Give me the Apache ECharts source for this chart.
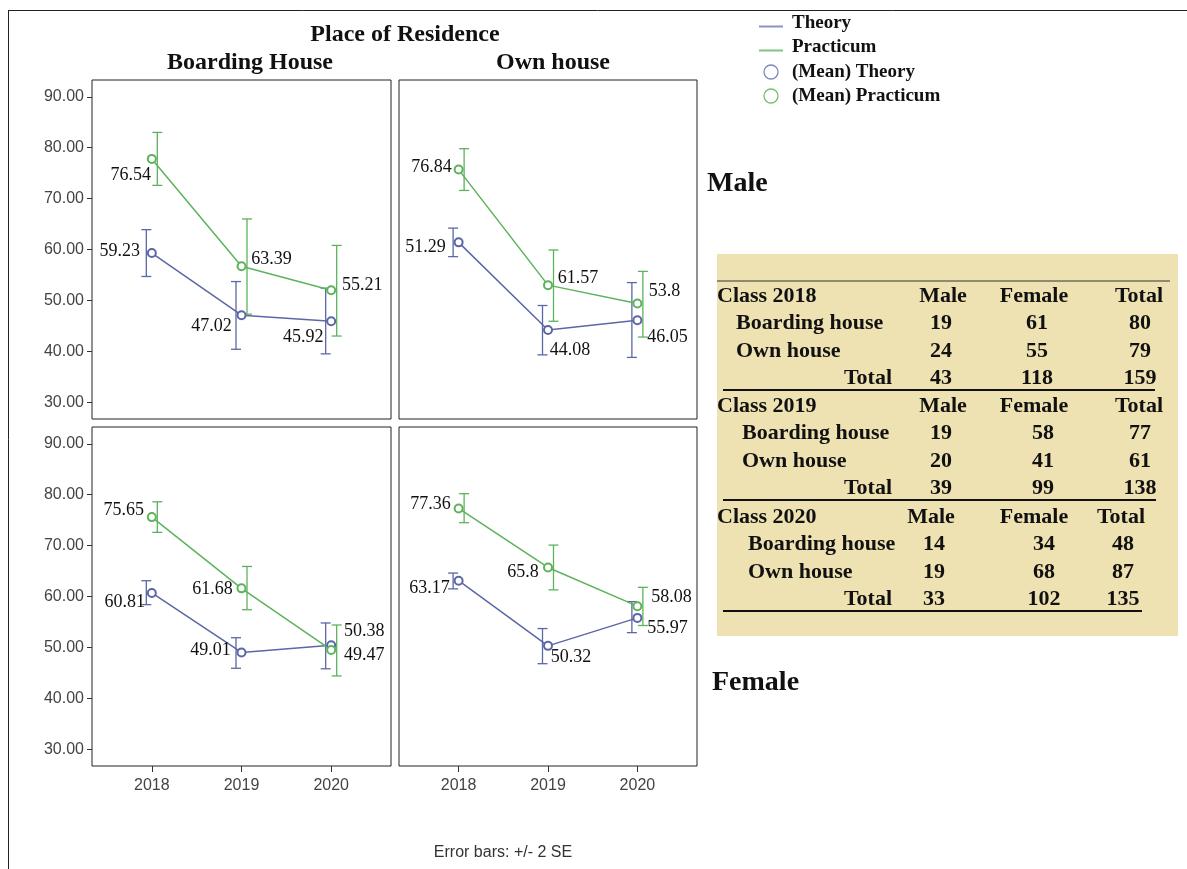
<!DOCTYPE html>
<html>
<head>
<meta charset="utf-8">
<script src="https://cdn.jsdelivr.net/npm/echarts@6.0.0/dist/echarts.min.js"></script>
<style>
  html, body { margin: 0; padding: 0; background: #fff; }
  #chart { width: 1187px; height: 869px; }
</style>
</head>
<body>
<div id="chart"></div>
<script>
// years on the x axis, ticks on the y axis
const years = [2018, 2019, 2020];
const yTicks = [30, 40, 50, 60, 70, 80, 90];

// Male - boarding house
const mbTheory = [59.3, 47.1, 45.9];
const mbTheoryLo = [54.7, 40.4, 39.5];
const mbTheoryHi = [63.9, 53.7, 52.4];
const mbPract = [77.8, 56.7, 52.0];
const mbPractLo = [72.6, 47.3, 43.0];
const mbPractHi = [83.0, 66.0, 60.8];
const mbTheoryText = ['59.23', '47.02', '45.92'];
const mbPractText = ['76.54', '63.39', '55.21'];

// Male - own house
const moTheory = [61.4, 44.2, 46.1];
const moTheoryLo = [58.6, 39.3, 38.8];
const moTheoryHi = [64.2, 49.0, 53.5];
const moPract = [75.7, 53.0, 49.4];
const moPractLo = [71.6, 45.9, 42.8];
const moPractHi = [79.8, 59.9, 55.7];
const moTheoryText = ['51.29', '44.08', '46.05'];
const moPractText = ['76.84', '61.57', '53.8'];

// Female - boarding house
const fbTheory = [60.7, 49.0, 50.4];
const fbTheoryLo = [58.4, 45.9, 45.8];
const fbTheoryHi = [63.1, 51.9, 54.8];
const fbPract = [75.6, 61.6, 49.5];
const fbPractLo = [72.6, 57.4, 44.4];
const fbPractHi = [78.6, 65.9, 54.4];
const fbTheoryText = ['60.81', '49.01', '50.38'];
const fbPractText = ['75.65', '61.68', '49.47'];

// Female - own house
const foTheory = [63.1, 50.3, 55.8];
const foTheoryLo = [61.5, 46.8, 52.9];
const foTheoryHi = [64.6, 53.7, 59.0];
const foPract = [77.3, 65.7, 58.1];
const foPractLo = [74.5, 61.3, 54.3];
const foPractHi = [80.2, 70.1, 61.8];
const foTheoryText = ['63.17', '50.32', '55.97'];
const foPractText = ['77.36', '65.8', '58.08'];

// sample sizes table
const tableClasses = ['Class 2018', 'Class 2019', 'Class 2020'];
const tableHead = ['Male', 'Female', 'Total'];
const boarding = [[19, 61, 80], [19, 58, 77], [14, 34, 48]];
const ownHouse = [[24, 55, 79], [20, 41, 61], [19, 68, 87]];
const totals = [[43, 118, 159], [39, 99, 138], [33, 102, 135]];

const THEORY = '#5b67a6';
const PRACT = '#5cb35c';
const SERIF = "'Liberation Serif', 'Times New Roman', serif";
const SANS = "'Liberation Sans', Arial, sans-serif";

// label offsets (px from the mean marker)
const labelShift = [
  { t: [[-32, -2], [-30, 11], [-28, 16]], p: [[-21, 16], [30, -7], [31, -5]] },
  { t: [[-33, 5], [22, 20], [30, 17]], p: [[-27, -2], [30, -7], [27, -12]] },
  { t: [[-27, 9], [-31, -2], [33, -14]], p: [[-28, -7], [-29, 1], [33, 5]] },
  { t: [[-29, 8], [23, 11], [30, 10]], p: [[-28, -4], [-25, 5], [34, -9]] }
];

const panels = [
  { t: mbTheory, tLo: mbTheoryLo, tHi: mbTheoryHi, tTxt: mbTheoryText, p: mbPract, pLo: mbPractLo, pHi: mbPractHi, pTxt: mbPractText },
  { t: moTheory, tLo: moTheoryLo, tHi: moTheoryHi, tTxt: moTheoryText, p: moPract, pLo: moPractLo, pHi: moPractHi, pTxt: moPractText },
  { t: fbTheory, tLo: fbTheoryLo, tHi: fbTheoryHi, tTxt: fbTheoryText, p: fbPract, pLo: fbPractLo, pHi: fbPractHi, pTxt: fbPractText },
  { t: foTheory, tLo: foTheoryLo, tHi: foTheoryHi, tTxt: foTheoryText, p: foPract, pLo: foPractLo, pHi: foPractHi, pTxt: foPractText }
];

const grids = [
  { left: 92, top: 80, width: 299, height: 339 },
  { left: 399, top: 80, width: 298, height: 339 },
  { left: 92, top: 427, width: 299, height: 339 },
  { left: 399, top: 427, width: 298, height: 339 }
];

function errorBars(gi, lo, hi, color, dx) {
  return {
    type: 'custom',
    xAxisIndex: gi, yAxisIndex: gi,
    z: 3,
    data: years.map((y, i) => [y, lo[i], hi[i]]),
    encode: { x: 0, y: [1, 2] },
    renderItem: function (params, api) {
      const top = api.coord([api.value(0), api.value(2)]);
      const bot = api.coord([api.value(0), api.value(1)]);
      const x = top[0] + dx;
      const st = { stroke: color, lineWidth: 1.3 };
      return {
        type: 'group',
        children: [
          { type: 'line', shape: { x1: x, y1: top[1], x2: x, y2: bot[1] }, style: st },
          { type: 'line', shape: { x1: x - 5, y1: top[1], x2: x + 5, y2: top[1] }, style: st },
          { type: 'line', shape: { x1: x - 5, y1: bot[1], x2: x + 5, y2: bot[1] }, style: st }
        ]
      };
    }
  };
}

function meanLine(gi, vals, texts, shifts, color) {
  return {
    type: 'line',
    xAxisIndex: gi, yAxisIndex: gi,
    z: 4,
    symbol: 'emptyCircle',
    symbolSize: 8,
    color: color,
    lineStyle: { color: color, width: 1.5 },
    itemStyle: { color: color, borderWidth: 1.3 },
    data: years.map((y, i) => ({
      value: [y, vals[i]],
      label: { offset: shifts[i] }
    })),
    label: {
      show: true,
      position: 'inside',
      align: 'center',
      verticalAlign: 'middle',
      fontFamily: SERIF,
      fontSize: 18,
      color: '#111',
      formatter: p => texts[p.dataIndex]
    }
  };
}

const series = [];
panels.forEach((pn, gi) => {
  series.push(errorBars(gi, pn.tLo, pn.tHi, THEORY, -5.5));
  series.push(errorBars(gi, pn.pLo, pn.pHi, PRACT, 5.5));
  series.push(meanLine(gi, pn.t, pn.tTxt, labelShift[gi].t, THEORY));
  series.push(meanLine(gi, pn.p, pn.pTxt, labelShift[gi].p, PRACT));
});

const xAxis = grids.map((g, i) => ({
  type: 'value', gridIndex: i, min: 2017.333, max: 2020.667,
  splitLine: { show: false },
  axisLine: { show: false },
  axisTick: { show: i >= 2, customValues: years, length: 6, lineStyle: { color: '#333' } },
  axisLabel: {
    show: i >= 2, customValues: years, margin: 12,
    fontFamily: SANS, fontSize: 16, color: '#444',
    formatter: v => String(Math.round(v))
  }
}));

const yAxis = grids.map((g, i) => ({
  type: 'value', gridIndex: i, min: 26.7, max: 93.3,
  splitLine: { show: false },
  axisLine: { show: false },
  axisTick: { show: i % 2 === 0, customValues: yTicks, length: 5, lineStyle: { color: '#333' } },
  axisLabel: {
    show: i % 2 === 0, customValues: yTicks, margin: 8,
    fontFamily: SANS, fontSize: 16, color: '#444',
    formatter: v => v.toFixed(2)
  }
}));

// graphic pieces: frame, legend, row labels, table
const graphic = [];
graphic.push({ type: 'line', shape: { x1: 8.5, y1: 10.5, x2: 8.5, y2: 869 }, style: { stroke: '#222', lineWidth: 1 } });
graphic.push({ type: 'line', shape: { x1: 8, y1: 10.5, x2: 1187, y2: 10.5 }, style: { stroke: '#222', lineWidth: 1 } });

const legendItems = [
  { name: 'Theory', color: '#8a92c2', kind: 'line', y: 23 },
  { name: 'Practicum', color: '#7fc47f', kind: 'line', y: 47 },
  { name: '(Mean) Theory', color: '#7e88bd', kind: 'circle', y: 72 },
  { name: '(Mean) Practicum', color: '#74c074', kind: 'circle', y: 96 }
];
legendItems.forEach(it => {
  if (it.kind === 'line') {
    graphic.push({ type: 'line', shape: { x1: 759, y1: it.y + 3.5, x2: 783, y2: it.y + 3.5 }, style: { stroke: it.color, lineWidth: 2 } });
  } else {
    graphic.push({ type: 'circle', shape: { cx: 771, cy: it.y, r: 7 }, style: { fill: null, stroke: it.color, lineWidth: 1.3 } });
  }
  graphic.push({ type: 'text', x: 792, y: it.y, style: { text: it.name, font: 'bold 19px ' + SERIF, fill: '#111', verticalAlign: 'middle' } });
});

graphic.push({ type: 'text', x: 707, y: 184, style: { text: 'Male', font: 'bold 28px ' + SERIF, fill: '#111', verticalAlign: 'middle' } });
graphic.push({ type: 'text', x: 712, y: 683, style: { text: 'Female', font: 'bold 28px ' + SERIF, fill: '#111', verticalAlign: 'middle' } });
graphic.push({ type: 'text', x: 503, y: 853, style: { text: 'Error bars: +/- 2 SE', font: '16px ' + SANS, fill: '#333', align: 'center', verticalAlign: 'middle' } });

// table
graphic.push({ type: 'rect', shape: { x: 717, y: 254, width: 461, height: 382 }, style: { fill: '#efe2b2' } });
graphic.push({ type: 'line', shape: { x1: 717, y1: 281, x2: 1170, y2: 281 }, style: { stroke: '#333', lineWidth: 1 } });
const headX = [[943, 1034, 1139], [943, 1034, 1139], [931, 1034, 1121]];
const valX = [[941, 1037, 1140], [941, 1043, 1140], [934, 1044, 1123]];
const rowIndent = [736, 742, 748];
const ruleEnd = [1155, 1156, 1142];
const blockTop = [296, 406, 517];
const tFont = 'bold 22px ' + SERIF;
tableClasses.forEach((c, k) => {
  const y0 = blockTop[k];
  graphic.push({ type: 'text', x: 717, y: y0, style: { text: c, font: tFont, fill: '#111', verticalAlign: 'middle' } });
  tableHead.forEach((h, j) => {
    graphic.push({ type: 'text', x: headX[k][j], y: y0, style: { text: h, font: tFont, fill: '#111', align: 'center', verticalAlign: 'middle' } });
  });
  const rows = [['Boarding house', boarding[k]], ['Own house', ownHouse[k]], ['Total', totals[k]]];
  rows.forEach((r, ri) => {
    const y = y0 + 27.5 * (ri + 1);
    if (ri < 2) {
      graphic.push({ type: 'text', x: rowIndent[k], y: y, style: { text: r[0], font: tFont, fill: '#111', verticalAlign: 'middle' } });
    } else {
      graphic.push({ type: 'text', x: 892, y: y, style: { text: r[0], font: tFont, fill: '#111', align: 'right', verticalAlign: 'middle' } });
    }
    r[1].forEach((v, j) => {
      graphic.push({ type: 'text', x: valX[k][j], y: y, style: { text: String(v), font: tFont, fill: '#111', align: 'center', verticalAlign: 'middle' } });
    });
  });
  graphic.push({ type: 'line', shape: { x1: 723, y1: y0 + 94, x2: ruleEnd[k], y2: y0 + 94 }, style: { stroke: '#111', lineWidth: 2 } });
});

const chart = echarts.init(document.getElementById('chart'));
chart.setOption({
  backgroundColor: '#fff',
  animation: false,
  title: [
    { text: 'Place of Residence', left: 400, top: 18, textAlign: 'center', textStyle: { fontFamily: SERIF, fontWeight: 'bold', fontSize: 24, color: '#111' } },
    { text: 'Boarding House', left: 245, top: 46, textAlign: 'center', textStyle: { fontFamily: SERIF, fontWeight: 'bold', fontSize: 24, color: '#111' } },
    { text: 'Own house', left: 548, top: 46, textAlign: 'center', textStyle: { fontFamily: SERIF, fontWeight: 'bold', fontSize: 24, color: '#111' } }
  ],
  grid: grids.map(g => Object.assign({ show: true, borderColor: '#222', borderWidth: 1, backgroundColor: 'transparent', containLabel: false }, g)),
  xAxis: xAxis,
  yAxis: yAxis,
  series: series,
  graphic: graphic
});
</script>
</body>
</html>
